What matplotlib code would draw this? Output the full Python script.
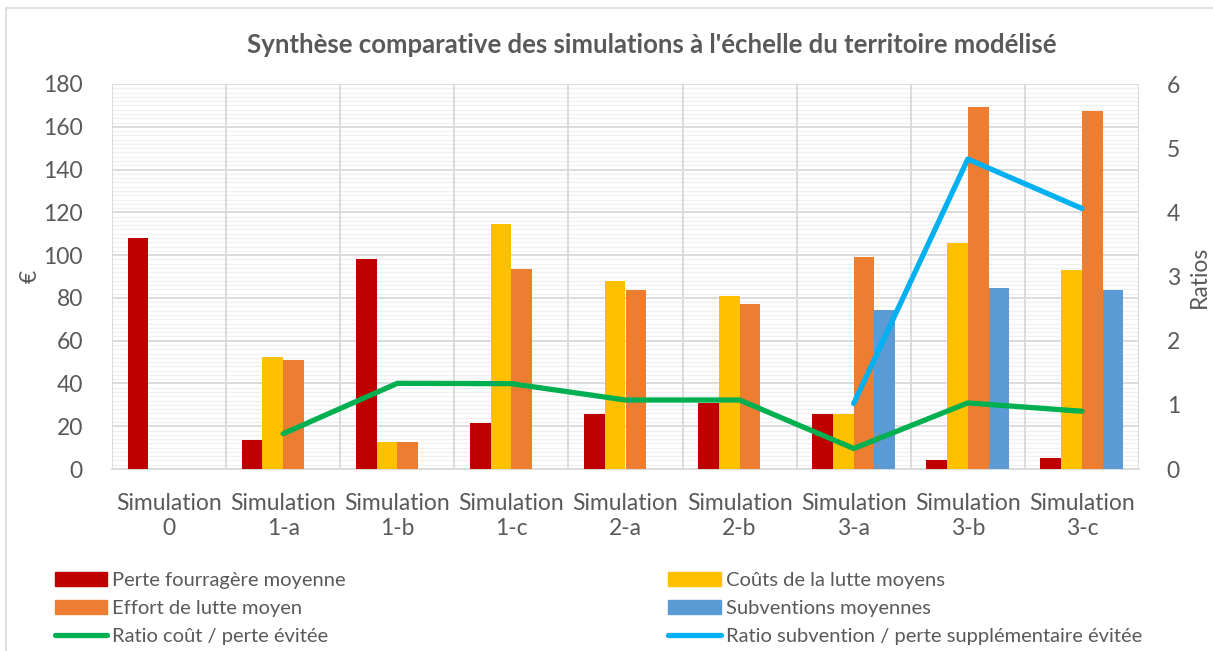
import matplotlib
matplotlib.use('Agg')
import matplotlib.pyplot as plt
import numpy as np
from matplotlib.patches import Rectangle
from matplotlib.lines import Line2D

plt.rcParams['font.family'] = ['Lato', 'DejaVu Sans']

# data per simulation
simulations = ['Simulation\n0', 'Simulation\n1-a', 'Simulation\n1-b', 'Simulation\n1-c',
               'Simulation\n2-a', 'Simulation\n2-b', 'Simulation\n3-a', 'Simulation\n3-b',
               'Simulation\n3-c']
perte_fourragere = [108, 13.6, 98, 21.6, 25.7, 31, 25.6, 4.2, 5.3]
couts_lutte = [0, 52.4, 12.8, 114.4, 87.7, 80.7, 25.6, 105.5, 93]
effort_lutte = [0, 51.1, 12.8, 93.5, 83.5, 77.1, 99, 169.1, 167.4]
subventions = [0, 0, 0, 0, 0, 0, 74.3, 84.5, 83.5]
ratio_cout = [np.nan, 0.55, 1.335, 1.33, 1.075, 1.075, 0.32, 1.03, 0.90]
ratio_subvention = [np.nan, np.nan, np.nan, np.nan, np.nan, np.nan, 1.02, 4.83, 4.06]

c_red = '#C00000'
c_yellow = '#FFC000'
c_orange = '#ED7D31'
c_blue = '#5B9BD5'
c_green = '#00B050'
c_cyan = '#00B0F0'
grey_txt = '#595959'

W, H = 1213, 651
fig = plt.figure(figsize=(W / 100, H / 100), dpi=100)

# chart frame (extends past right and bottom edges)
fig.patches.append(Rectangle((6 / W, -0.1), 1.2, 1 - 8 / H + 0.1, transform=fig.transFigure,
                             fill=False, edgecolor='#D9D9D9', lw=1.2))

ax = fig.add_axes([112 / W, 1 - 469 / H, (1139 - 112) / W, (469 - 84) / H])
ax2 = ax.twinx()

x = np.arange(len(simulations))
bw = 0.182
series = [(perte_fourragere, c_red), (couts_lutte, c_yellow),
          (effort_lutte, c_orange), (subventions, c_blue)]
for i, (vals, col) in enumerate(series):
    ax.bar(x + (i - 1.5) * bw, vals, bw, color=col, zorder=3)

line_w = 3.8
ax2.plot(x, ratio_cout, color=c_green, lw=line_w, solid_capstyle='round', zorder=4)
ax2.plot(x, ratio_subvention, color=c_cyan, lw=line_w, solid_capstyle='round', zorder=4)

ax.set_xlim(-0.5, len(simulations) - 0.5)
ax.set_ylim(0, 180)
ax2.set_ylim(0, 6)
ax.set_yticks(np.arange(0, 181, 20))
ax.set_yticks(np.arange(0, 181, 2), minor=True)
ax2.set_yticks(np.arange(0, 7, 1))

# grid: major and minor horizontals, verticals between categories
ax.grid(axis='y', which='major', color='#D9D9D9', lw=1.3, zorder=0)
ax.grid(axis='y', which='minor', color='#F0F0F0', lw=1.0, zorder=0)
for b in np.arange(-0.5, len(simulations), 1.0):
    ax.axvline(b, color='#D9D9D9', lw=1.3, zorder=1)
ax.set_axisbelow(True)

fs = 16.5
ax.set_xticks(x)
ax.set_xticklabels(simulations, fontsize=fs, color=grey_txt, linespacing=1.25)
ax.tick_params(axis='x', length=0, pad=17)
ax.tick_params(axis='y', which='both', length=0, labelsize=fs, labelcolor=grey_txt, pad=21)
ax2.tick_params(axis='y', length=0, labelsize=fs, labelcolor=grey_txt, pad=20)

for a in (ax, ax2):
    for s in a.spines.values():
        s.set_visible(False)
ax.spines['bottom'].set_visible(True)
ax.spines['bottom'].set_color('#D9D9D9')
ax.spines['bottom'].set_linewidth(1.3)

ax.set_ylabel('€', fontsize=fs, color=grey_txt, labelpad=2)
ax2.set_ylabel('Ratios', fontsize=fs, color=grey_txt, labelpad=6)

fig.text(652 / W, 1 - 45 / H,
         "Synthèse comparative des simulations à l'échelle du territoire modélisé",
         ha='center', va='center', fontsize=18.5, fontweight='bold', color=grey_txt)

handles = [
    Rectangle((0, 0), 1, 1, color=c_red), Rectangle((0, 0), 1, 1, color=c_orange),
    Line2D([], [], color=c_green, lw=line_w, solid_capstyle='round'),
    Rectangle((0, 0), 1, 1, color=c_yellow), Rectangle((0, 0), 1, 1, color=c_blue),
    Line2D([], [], color=c_cyan, lw=line_w, solid_capstyle='round'),
]
labels = ['Perte fourragère moyenne', 'Effort de lutte moyen', 'Ratio coût / perte évitée',
          'Coûts de la lutte moyens', 'Subventions moyennes',
          'Ratio subvention / perte supplémentaire évitée']
leg = fig.legend(handles, labels, ncol=2, loc='upper left',
                 bbox_to_anchor=(55 / W, 1 - 572 / H), frameon=False,
                 fontsize=14.5, labelcolor=grey_txt, handlelength=2.6, handleheight=0.7,
                 handletextpad=0.25, columnspacing=16.0, labelspacing=0.55,
                 borderaxespad=0, borderpad=0)

fig.savefig('out.png', dpi=100)
